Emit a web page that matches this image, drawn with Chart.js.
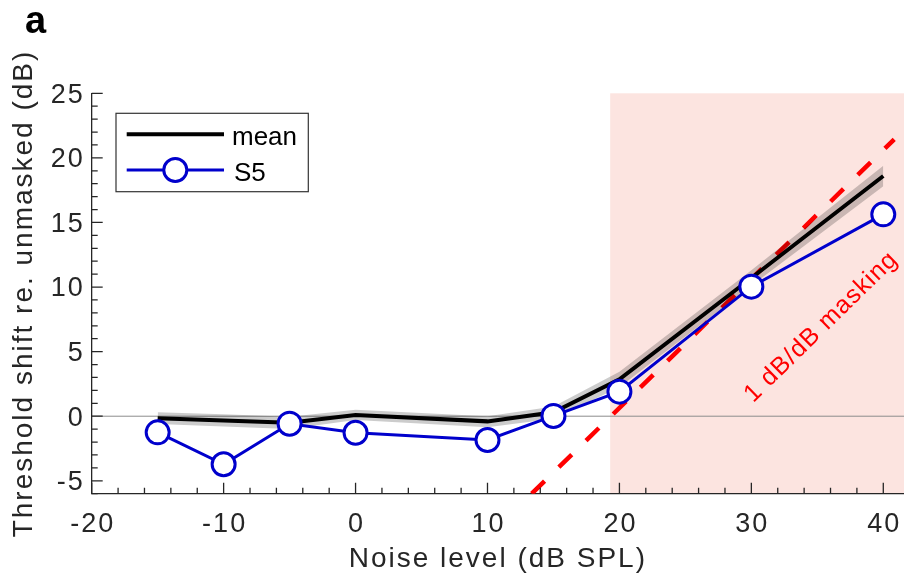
<!DOCTYPE html>
<html><head><meta charset="utf-8">
<script src="https://cdn.jsdelivr.net/npm/chart.js@4.4.0/dist/chart.umd.min.js"></script>
<style>html,body{margin:0;padding:0;background:#fff;overflow:hidden}canvas{display:block}</style>
</head><body>
<canvas id="c" width="904" height="583"></canvas>
<script>
// ---- data ----
const noiseLevels = [-15, -10, -5, 0, 10, 15, 20, 30, 40];
const s5Shift     = [-1.25, -3.72, -0.58, -1.28, -1.84, 0.02, 1.9, 10.03, 15.63];
const meanShift   = [-0.15, -0.33, -0.5, 0.1, -0.4, 0.3, 2.85, 10.7, 18.6];
const meanLower   = [-0.6, -0.8, -1.0, -0.3, -0.85, -0.2, 2.25, 10.1, 17.8];
const meanUpper   = [0.3, 0.15, -0.05, 0.5, 0.0, 0.75, 3.45, 11.3, 19.4];
const maskingX    = [13.35, 40.83];
const maskingY    = [-6.0, 21.44];
const maskLabelPos = [35.3, 6.9];
const shadedRange = [19.3, 41.57];
const xTickValues = [-20, -10, 0, 10, 20, 30, 40];
const yTickValues = [-5, 0, 5, 10, 15, 20, 25];

const AXIS = '#262626';
const BLUE = 'rgb(0,0,204)';
const PINK = 'rgb(252,228,224)';
const FONT = '"Liberation Sans", Arial, sans-serif';
Chart.defaults.font.family = FONT;
Chart.defaults.color = AXIS;

const pts = (xs, ys) => xs.map((v, i) => ({x: v, y: ys[i]}));

const decor = {
  id: 'decor',
  beforeLayout(chart) { chart.ctx.letterSpacing = '2px'; },
  beforeDraw(chart) {
    const {ctx, chartArea: a, scales: {x, y}} = chart;
    ctx.save();
    const x0 = x.getPixelForValue(shadedRange[0]);
    const x1 = x.getPixelForValue(shadedRange[1]);
    ctx.fillStyle = PINK;
    ctx.fillRect(x0, a.top, x1 - x0, a.bottom - a.top);
    const y0 = y.getPixelForValue(0);
    ctx.strokeStyle = '#8c8c8c'; ctx.lineWidth = 1;
    ctx.beginPath(); ctx.moveTo(a.left, y0); ctx.lineTo(a.right, y0); ctx.stroke();
    ctx.restore();
    ctx.letterSpacing = '2px';
  },
  afterDatasetsDraw(chart) {
    const {ctx, chartArea: a, scales: {x, y}} = chart;
    ctx.save();
    ctx.letterSpacing = '0px';
    // inward ticks
    ctx.strokeStyle = AXIS; ctx.lineWidth = 1.3;
    ctx.beginPath();
    for (let v = x.min; v <= x.max + 1e-9; v += 2) {
      const px = x.getPixelForValue(v);
      const len = (Math.round(v) % 10 === 0) ? 11 : 6;
      ctx.moveTo(px, a.bottom); ctx.lineTo(px, a.bottom - len);
    }
    for (let v = Math.ceil(y.min); v <= y.max + 1e-9; v += 1) {
      const py = y.getPixelForValue(v);
      const len = (v % 5 === 0) ? 11 : 6;
      ctx.moveTo(a.left, py); ctx.lineTo(a.left + len, py);
    }
    ctx.stroke();

    // masking label
    const p0x = x.getPixelForValue(maskingX[0]), p0y = y.getPixelForValue(maskingY[0]);
    const p1x = x.getPixelForValue(maskingX[1]), p1y = y.getPixelForValue(maskingY[1]);
    const ang = Math.atan2(p1y - p0y, p1x - p0x);
    ctx.save();
    ctx.translate(x.getPixelForValue(maskLabelPos[0]), y.getPixelForValue(maskLabelPos[1]));
    ctx.rotate(ang);
    ctx.letterSpacing = '1px';
    ctx.font = '25px ' + FONT;
    ctx.fillStyle = '#ff0000';
    ctx.textAlign = 'center'; ctx.textBaseline = 'middle';
    ctx.fillText('1 dB/dB masking', 0, 0);
    ctx.restore();

    // legend
    const ds = chart.data.datasets;
    ctx.letterSpacing = '0px';
    ctx.fillStyle = '#fff';
    ctx.fillRect(116, 113.3, 192.3, 78.4);
    ctx.strokeStyle = '#333'; ctx.lineWidth = 1.2;
    ctx.strokeRect(116, 113.3, 192.3, 78.4);
    ctx.strokeStyle = ds[1].borderColor; ctx.lineWidth = ds[1].borderWidth;
    ctx.beginPath(); ctx.moveTo(126.7, 134.3); ctx.lineTo(224, 134.3); ctx.stroke();
    ctx.strokeStyle = ds[0].borderColor; ctx.lineWidth = ds[0].borderWidth;
    ctx.beginPath(); ctx.moveTo(126.7, 170); ctx.lineTo(224, 170); ctx.stroke();
    ctx.fillStyle = '#fff'; ctx.lineWidth = ds[0].pointBorderWidth;
    ctx.beginPath(); ctx.arc(175.3, 170, ds[0].pointRadius, 0, Math.PI * 2); ctx.fill(); ctx.stroke();
    ctx.fillStyle = '#000'; ctx.font = '26px ' + FONT;
    ctx.textAlign = 'left'; ctx.textBaseline = 'alphabetic';
    ctx.fillText(ds[1].label, 232, 145);
    ctx.fillText(ds[0].label, 234, 180.5);

    // panel letter
    ctx.font = 'bold 38px ' + FONT;
    ctx.fillText('a', 25, 33);
    ctx.restore();
    ctx.letterSpacing = '2px';
  }
};

new Chart(document.getElementById('c'), {
  type: 'line',
  data: {
    datasets: [
      {label: 'S5', data: pts(noiseLevels, s5Shift), borderColor: BLUE, borderWidth: 3,
       pointRadius: 11.5, pointHoverRadius: 11.5, pointBorderWidth: 3, pointBackgroundColor: '#fff',
       pointBorderColor: BLUE, fill: false, tension: 0},
      {label: 'mean', data: pts(noiseLevels, meanShift), borderColor: '#000', borderWidth: 4,
       pointRadius: 0, fill: false, tension: 0},
      {label: 'upper', data: pts(noiseLevels, meanUpper), borderColor: 'rgba(0,0,0,0)', borderWidth: 1,
       pointRadius: 0, fill: false, tension: 0},
      {label: 'lower', data: pts(noiseLevels, meanLower), borderColor: 'rgba(0,0,0,0)', borderWidth: 1,
       pointRadius: 0, fill: '-1', backgroundColor: 'rgba(0,0,0,0.2)', tension: 0},
      {label: '1 dB/dB masking', data: pts(maskingX, maskingY), borderColor: '#ff0000', borderWidth: 4.5,
       borderDash: [18, 20], pointRadius: 0, fill: false, tension: 0}
    ]
  },
  options: {
    responsive: false, animation: false, devicePixelRatio: 1,
    layout: {autoPadding: false, padding: {top: 93.3, left: 0, right: 0, bottom: 0}},
    plugins: {legend: {display: false}, tooltip: {enabled: false}},
    scales: {
      x: {
        type: 'linear', min: -20, max: 41.57,
        afterBuildTicks: s => { s.ticks = xTickValues.map(v => ({value: v})); },
        afterFit: s => { s.height = 89.3; s.paddingLeft = 0; s.paddingRight = 0; },
        grid: {display: false, drawTicks: false},
        border: {display: true, color: AXIS, width: 1.3},
        ticks: {font: {size: 27}, color: AXIS, padding: 14.3, maxRotation: 0, autoSkip: false, labelOffset: 1},
        title: {display: true, text: 'Noise level (dB SPL)', font: {size: 28}, color: AXIS, padding: {top: 0, bottom: 7.2}}
      },
      y: {
        type: 'linear', min: -6, max: 25,
        afterBuildTicks: s => { s.ticks = yTickValues.map(v => ({value: v})); },
        afterFit: s => { s.width = 91.7; s.paddingTop = 0; s.paddingBottom = 0; },
        grid: {display: false, drawTicks: false},
        border: {display: true, color: AXIS, width: 1.3},
        ticks: {font: {size: 27}, color: AXIS, padding: 7, autoSkip: false, labelOffset: 2},
        title: {display: true, text: 'Threshold shift re. unmasked (dB)', font: {size: 28}, color: AXIS, padding: {top: 7.4, bottom: 0}}
      }
    }
  },
  plugins: [decor]
});
</script>
</body></html>
